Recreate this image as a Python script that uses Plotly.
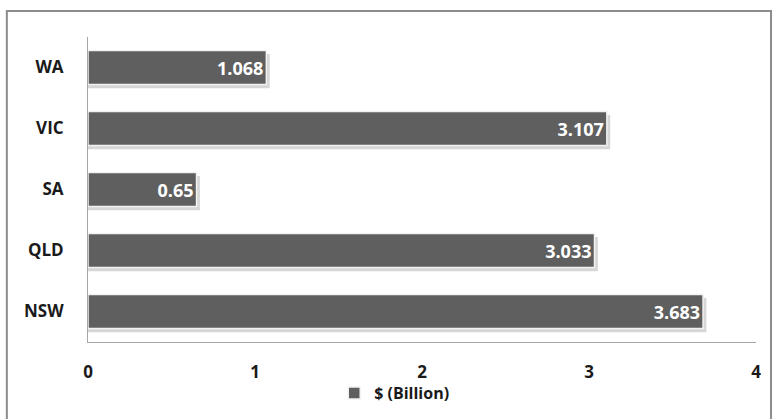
import plotly.graph_objects as go

states = ["NSW", "QLD", "SA", "VIC", "WA"]
values = [3.683, 3.033, 0.65, 3.107, 1.068]
series_name = "$ (Billion)"
x_ticks = [0, 1, 2, 3, 4]

bar_color = "#5f5f5f"
font_family = "Open Sans, Noto Sans, sans-serif"
bw = 0.56

fig = go.Figure()
# soft drop shadow
fig.add_trace(go.Bar(
    y=states, x=[v + 0.02 for v in values], orientation="h",
    width=bw, offset=-bw / 2 - 0.06,
    marker=dict(color="rgba(0,0,0,0.16)", line=dict(width=0)),
    showlegend=False, hoverinfo="skip",
))
fig.add_trace(go.Bar(
    y=states, x=values, orientation="h", name=series_name,
    width=bw, offset=-bw / 2,
    marker=dict(color=bar_color, line=dict(color="#f2f2f2", width=1.5)),
    text=[f"{v:g}" for v in values], textposition="inside",
    insidetextanchor="end",
    textfont=dict(color="white", size=18, family=font_family, weight="bold"),
))

fig.update_layout(
    width=773, height=419,
    margin=dict(l=88, r=17, t=37, b=77),
    paper_bgcolor="white", plot_bgcolor="white",
    barmode="overlay",
    font=dict(family=font_family, color="#1a1a1a"),
    xaxis=dict(
        range=[0, 4], tickvals=x_ticks, showgrid=False, zeroline=False,
        showline=True, linecolor="#a6a6a6", linewidth=1,
        ticks="outside", ticklen=0, ticklabelstandoff=15,
        tickfont=dict(size=17, weight="bold", color="#1a1a1a"),
        fixedrange=True, automargin=False,
    ),
    yaxis=dict(
        showgrid=False, zeroline=False, showline=True,
        linecolor="#a6a6a6", linewidth=1,
        ticks="outside", ticklen=0, ticklabelstandoff=20,
        tickfont=dict(size=17, weight="bold", color="#1a1a1a"),
        categoryorder="array", categoryarray=states, automargin=False,
    ),
    showlegend=True,
    legend=dict(
        orientation="h", xref="container", yref="container",
        x=0.51, xanchor="center", y=0.062, yanchor="middle",
        bgcolor="rgba(0,0,0,0)",
        font=dict(size=16, weight="bold", color="#1a1a1a"),
        itemwidth=30, tracegroupgap=0,
    ),
    shapes=[dict(
        type="rect", xref="paper", yref="paper",
        x0=-0.1215, x1=1.0225, y0=-0.3, y1=1.085,
        line=dict(color="#8c8c8c", width=2), layer="below",
    )],
)

fig.write_html("out.html")
